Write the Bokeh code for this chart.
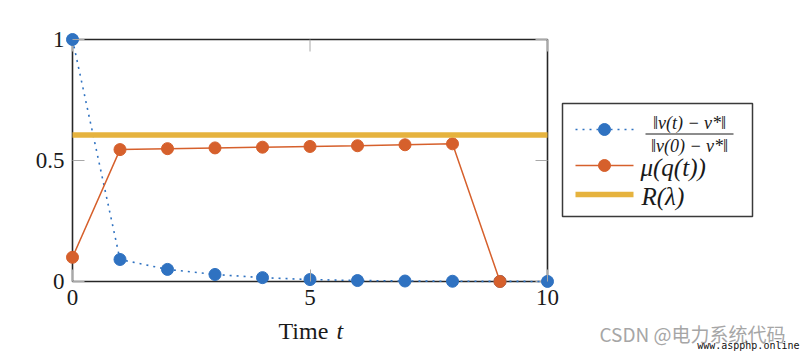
from bokeh.plotting import figure
from bokeh.models import Range1d, Label, FixedTicker, NumeralTickFormatter
from bokeh.core.properties import value
from bokeh.embed import file_html
from bokeh.resources import INLINE

# ---------------- data ----------------
t_err = [0, 1, 2, 3, 4, 5, 6, 7, 8, 9, 10]
err = [1.0, 0.091, 0.05, 0.029, 0.016, 0.008, 0.004, 0.002, 0.001, 0.0005, 0.0002]
t_mu = [0, 1, 2, 3, 4, 5, 6, 7, 8, 9]
mu = [0.1, 0.545, 0.549, 0.552, 0.555, 0.558, 0.561, 0.565, 0.569, 0.0]
R_lambda = 0.605
x_ticks = [0, 5, 10]
y_ticks = [0, 0.5, 1]
legend_labels = ["‖v(t) − v*‖", "‖v(0) − v*‖", "μ(q(t))", "R(λ)"]
xlabel_parts = ["Time", "t"]
watermark = ["CSDN @电力系统代码", "www.aspphp.online"]

# ---------------- layout (pixels) ----------------
W, H = 800, 351
BOX_L, BOX_R, BOX_T, BOX_B = 72, 547, 39, 281
kx = (BOX_R - BOX_L) / (x_ticks[-1] - x_ticks[0])
ky = (BOX_B - BOX_T) / (y_ticks[-1] - y_ticks[0])
x_start = x_ticks[0] - BOX_L / kx
x_end = x_start + W / kx
y_end = y_ticks[-1] + BOX_T / ky
y_start = y_end - H / ky


def dx(px):
    return x_start + px / kx


def dy(py):
    return y_end - py / ky


BLUE = "#2f72c1"
ORANGE = "#d6602c"
GOLD = "#e6b33e"
FRAME = "#262626"
TICK = "#a8a8a8"
TEXT = "#1a1a1a"
SERIF = "Liberation Serif"
TICK_LEN = 12

p = figure(width=W, height=H, x_range=Range1d(x_start, x_end), y_range=Range1d(y_start, y_end),
           output_backend="svg", toolbar_location=None, min_border=0)
p.background_fill_color = "white"
p.border_fill_color = "white"
p.outline_line_color = None
p.grid.visible = False

for ax, ticks in ((p.xaxis[0], x_ticks), (p.yaxis[0], y_ticks)):
    ax.fixed_location = 0
    ax.ticker = FixedTicker(ticks=ticks)
    ax.formatter = NumeralTickFormatter(format="0.[0]")
    ax.axis_line_color = None
    ax.major_tick_in = TICK_LEN
    ax.major_tick_out = 0
    ax.major_tick_line_color = TICK
    ax.minor_tick_line_color = None
    ax.major_label_text_font = SERIF
    ax.major_label_text_font_size = "23px"
    ax.major_label_text_color = TEXT
p.xaxis[0].major_label_standoff = 8
p.yaxis[0].major_label_standoff = 8

# box + mirrored ticks
p.quad(left=[x_ticks[0]], right=[x_ticks[-1]], bottom=[y_ticks[0]], top=[y_ticks[-1]],
       fill_color=None, line_color=FRAME, line_width=1.6)
p.segment(x0=x_ticks, x1=x_ticks, y0=[y_ticks[-1]] * len(x_ticks),
          y1=[y_ticks[-1] - TICK_LEN / ky] * len(x_ticks), line_color=TICK, line_width=1)
p.segment(x0=[x_ticks[-1]] * len(y_ticks), x1=[x_ticks[-1] - TICK_LEN / kx] * len(y_ticks),
          y0=y_ticks, y1=y_ticks, line_color=TICK, line_width=1)

# series
p.line(t_err, err, line_color=BLUE, line_width=1.6, line_dash="2 5")
p.scatter(t_err, err, size=12, fill_color=BLUE, line_color=BLUE)
p.line(t_mu, mu, line_color=ORANGE, line_width=1.5)
p.scatter(t_mu, mu, size=12, fill_color=ORANGE, line_color=ORANGE)
p.segment(x0=[t_err[0]], x1=[t_err[-1]], y0=[R_lambda], y1=[R_lambda], line_color=GOLD, line_width=5.5)

# x-axis title
p.add_layout(Label(x=dx(278), y=dy(330), text=xlabel_parts[0], text_font=SERIF,
                   text_font_size="24px", text_color=TEXT, text_align="left",
                   text_baseline="middle"))
p.add_layout(Label(x=dx(336), y=dy(330), text=xlabel_parts[1], text_font=SERIF,
                   text_font_style="italic", text_font_size="24px", text_color=TEXT,
                   text_align="left", text_baseline="middle"))

# ---------------- legend ----------------
p.quad(left=[dx(562)], right=[dx(752)], top=[dy(103)], bottom=[dy(216)], fill_color="white",
       line_color="#3a3a3a", line_width=1.5)
# entry 1
p.line([dx(575), dx(633)], [dy(129)] * 2, line_color=BLUE, line_width=1.6, line_dash="2 5")
p.scatter([dx(604)], [dy(129)], size=12, fill_color=BLUE, line_color=BLUE)
p.text([dx(689)], [dy(122)], text=[legend_labels[0]], text_font=value(SERIF), text_font_style="italic",
       text_font_size="18px", text_align="center", text_baseline="middle", text_color=TEXT)
p.line([dx(645), dx(733)], [dy(133.5)] * 2, line_color=TEXT, line_width=1)
p.text([dx(689)], [dy(145)], text=[legend_labels[1]], text_font=value(SERIF), text_font_style="italic",
       text_font_size="18px", text_align="center", text_baseline="middle", text_color=TEXT)
# entry 2
p.line([dx(575), dx(633)], [dy(165)] * 2, line_color=ORANGE, line_width=1.5)
p.scatter([dx(604)], [dy(165)], size=12, fill_color=ORANGE, line_color=ORANGE)
p.text([dx(640)], [dy(167)], text=[legend_labels[2]], text_font=value(SERIF), text_font_style="italic",
       text_font_size="25px", text_align="left", text_baseline="middle", text_color=TEXT)
# entry 3
p.line([dx(575), dx(633)], [dy(194)] * 2, line_color=GOLD, line_width=5.5)
p.text([dx(641)], [dy(196)], text=[legend_labels[3]], text_font=value(SERIF), text_font_style="italic",
       text_font_size="25px", text_align="left", text_baseline="middle", text_color=TEXT)

# watermark
p.text([dx(599)], [dy(333)], text=[watermark[0]], text_font=value("Noto Sans CJK SC"),
       text_font_size="19px", text_align="left", text_baseline="middle", text_color="#a6a6a6")
p.text([dx(799)], [dy(345)], text=[watermark[1]], text_font=value("DejaVu Sans Mono"),
       text_font_size="10px", text_align="right", text_baseline="middle", text_color="#111111")

open("out.html", "w").write(file_html(p, INLINE))
